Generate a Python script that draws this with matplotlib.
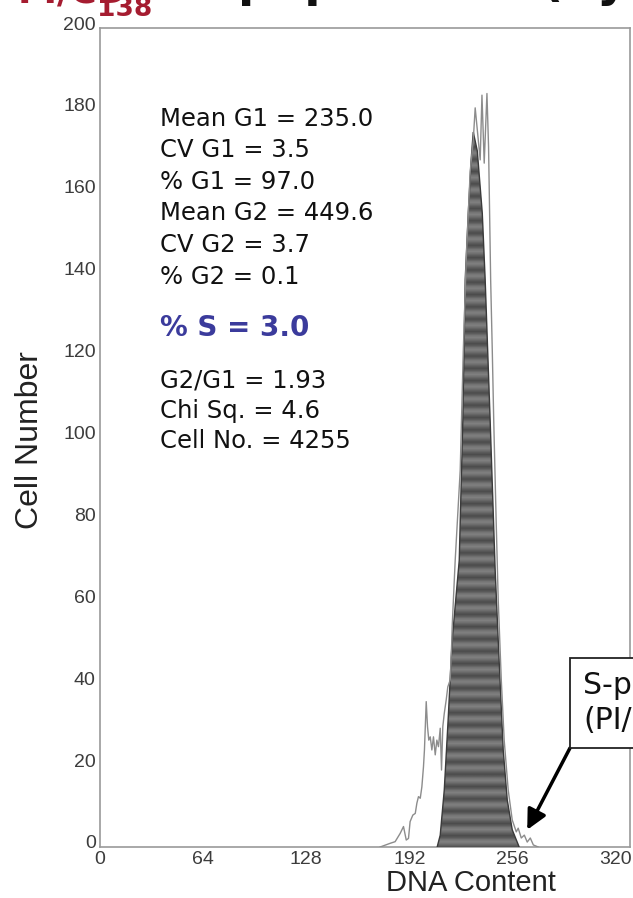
import numpy as np
import matplotlib
matplotlib.use("Agg")
import matplotlib.pyplot as plt
import matplotlib.transforms as mtransforms
from matplotlib.patches import Polygon, Rectangle

W, H = 633, 898

# G1 model peak (filled)
g1_x = [209.3, 211.2, 213.7, 216.1, 218.6, 223.0, 225.2, 226.7, 228.6, 230.4, 231.7,
        234.2, 237.3, 239.1, 242.2, 245.3, 247.2, 250.3, 252.8, 255.9, 260.2]
g1_y = [0, 2.9, 13.9, 31.0, 50.5, 70.0, 104.0, 138.5, 154.8, 167.8, 174.6,
        170.0, 154.8, 138.5, 104.0, 67.6, 50.5, 23.7, 11.5, 4.2, 0]

# raw DNA histogram (outline)
raw_x = [173.9, 180.1, 183.2, 186.3, 188.4, 190.1, 191.5, 192.5, 194.2, 195.7, 196.7,
         197.7, 198.8, 199.8, 200.8, 201.4, 202.5, 203.3, 204.1, 205.0, 206.0, 207.0,
         208.1, 209.1, 210.1, 211.2, 212.0, 212.8, 213.7, 214.9, 215.9, 217.4, 218.4,
         218.6, 220.5, 223.6, 225.5, 227.3, 229.8, 231.7, 232.9, 236.0, 237.1, 238.5,
         240.2, 241.2, 242.5, 243.5, 244.4, 245.9, 247.2, 249.1, 250.9, 253.4, 255.9,
         258.4, 259.6, 261.5, 263.4, 265.2, 267.1, 269.0, 272.0]
raw_y = [0, 0.9, 1.3, 3.3, 5.0, 1.7, 2.1, 6.2, 7.8, 8.2, 10.7,
         12.3, 11.9, 14.7, 19.6, 23.7, 35.5, 29.4, 26.1, 26.9, 23.7, 26.9,
         22.5, 26.1, 24.5, 29.0, 18.8, 29.4, 32.6, 35.9, 39.1, 40.8, 50.5,
         53.7, 70.1, 92.0, 121.0, 143.0, 165.0, 172.6, 180.5, 167.8, 183.6, 167.0,
         184.0, 171.0, 138.5, 121.4, 104.3, 79.9, 60.3, 40.8, 26.1, 13.9, 6.6,
         3.7, 4.6, 2.2, 2.9, 1.2, 2.2, 0.5, 0]

stats = ["Mean G1 = 235.0", "CV G1 = 3.5", "% G1 = 97.0", "Mean G2 = 449.6",
         "CV G2 = 3.7", "% G2 = 0.1"]
stats_base = [126, 157, 189, 220, 252, 284]
s_phase = "% S = 3.0"
stats2 = ["G2/G1 = 1.93", "Chi Sq. = 4.6", "Cell No. = 4255"]
stats2_base = [387, 418, 448]

xticks = [0, 64, 128, 192, 256, 320]
yticks = list(range(0, 201, 20))

narrow = ["Liberation Sans Narrow", "Liberation Sans", "DejaVu Sans"]
RED = "#a51c30"
BLUE = "#3b3b9c"


def fx(px):
    return px / W


def fy(py):
    return 1 - py / H


fig = plt.figure(figsize=(W / 100, H / 100), dpi=100)
ax = fig.add_axes([fx(100), fy(847), fx(630) - fx(100), fy(28) - fy(847)])

# filled G1 peak with banded grey texture
poly = Polygon(np.column_stack([g1_x, g1_y]), closed=True, facecolor="none",
               edgecolor="#3a3a3a", lw=1.0, zorder=3)
ax.add_patch(poly)
tex = np.tile(np.array([[0.30], [0.36], [0.46], [0.50], [0.44], [0.36]]), (60, 1))
im = ax.imshow(tex, extent=[205, 265, 0, 180], aspect="auto", cmap="gray",
               vmin=0, vmax=1, interpolation="bilinear", zorder=2)
im.set_clip_path(poly)

ax.plot(raw_x, raw_y, color="#8c8c8c", lw=1.0, zorder=4)

ax.set_xlim(0, 329)
ax.set_ylim(0, 200)
ax.set_xticks(xticks)
ax.set_yticks(yticks)
ax.tick_params(length=0, labelsize=14, labelcolor="#3c3c3c", pad=3)
up = mtransforms.ScaledTranslation(0, 5 / 100, fig.dpi_scale_trans)
for lab in ax.get_xticklabels() + ax.get_yticklabels():
    lab.set_family(narrow)
for lab in ax.get_yticklabels():
    lab.set_transform(lab.get_transform() + up)
for s in ax.spines.values():
    s.set_color("#9a9a9a")
    s.set_linewidth(1.2)

fig.text(fx(471), fy(883), "DNA Content", family=narrow, fontsize=21,
         color="#222222", ha="center", va="center")
fig.text(fx(30), fy(440), "Cell Number", family=narrow, fontsize=23,
         color="#222222", ha="center", va="center", rotation=90)

for txt, b in zip(stats, stats_base):
    fig.text(fx(160), fy(b), txt, fontsize=17.5, color="#111111", va="baseline")
fig.text(fx(160), fy(336), s_phase, fontsize=20, fontweight="bold", color=BLUE,
         va="baseline")
for txt, b in zip(stats2, stats2_base):
    fig.text(fx(160), fy(b), txt, fontsize=17.5, color="#111111", va="baseline")

# title running off the top edge
fig.text(fx(18), fy(3), "PI/CD", fontsize=26, fontweight="bold", color=RED,
         va="baseline")
fig.text(fx(97), fy(16), "138", fontsize=19, fontweight="bold", color=RED,
         va="baseline")
fig.text(fx(238), fy(-4), "population (by cytometry)", fontsize=34,
         fontweight="bold", color="#111111", va="baseline")

# S-phase callout
fig.patches.append(Rectangle((fx(570), fy(748)), fx(200), fy(658) - fy(748),
                             transform=fig.transFigure, facecolor="white",
                             edgecolor="#222222", lw=1.3, zorder=5))
fig.text(fx(583), fy(694), "S-phase", fontsize=21.5, color="#111111",
         va="baseline", zorder=6)
fig.text(fx(583), fy(729), "(PI/CD138)", fontsize=21.5, color="#111111",
         va="baseline", zorder=6)
ax.annotate("", xy=(265.2, 4.2), xycoords="data",
            xytext=(570, H - 748), textcoords="figure pixels",
            arrowprops=dict(arrowstyle="-|>", lw=2.5, color="black",
                            mutation_scale=30, shrinkA=0, shrinkB=0),
            zorder=7, annotation_clip=False)

fig.savefig("out.png", dpi=100)
